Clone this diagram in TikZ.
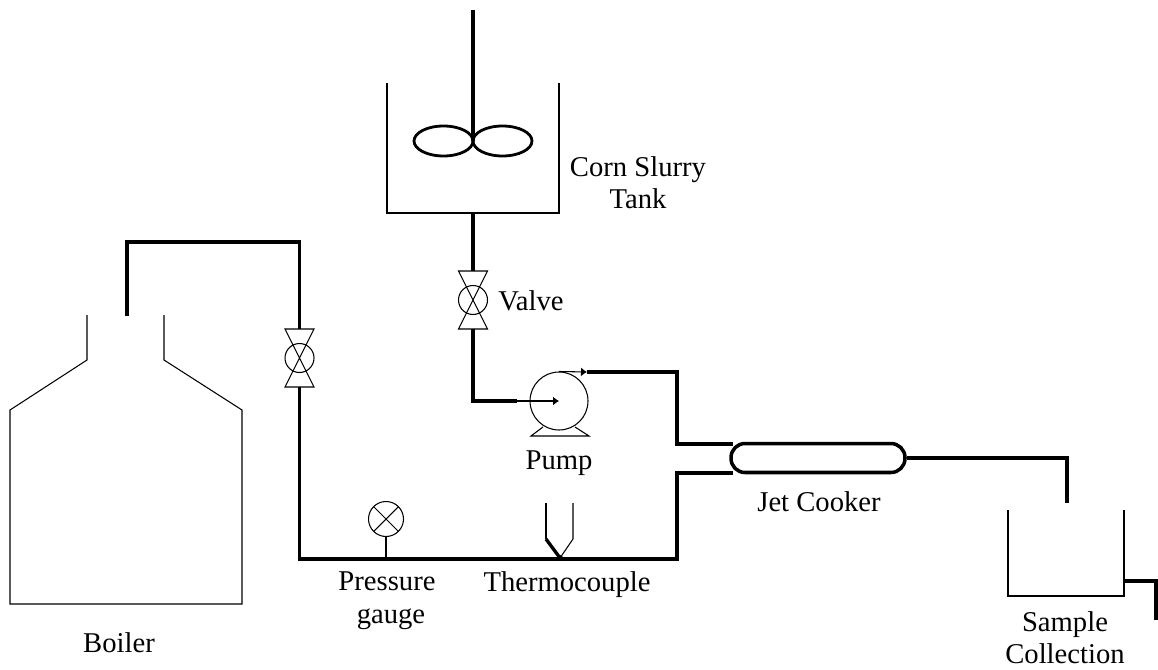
\documentclass[tikz,border=0pt]{standalone}
\usepackage{fontspec}
\setmainfont{Liberation Serif}
\usetikzlibrary{arrows.meta}

\tikzset{
  pipe/.style={line width=2.2pt, line join=miter},
  wall/.style={line width=0.6pt, line join=miter},
  feed/.style={wall, -{Latex[length=1.2mm, width=1.8mm]}},
  ball/.style={circle, draw, line width=0.6pt, inner sep=0pt, minimum size=0.58cm},
  label/.style={font=\fontsize{16.3}{19}\selectfont, inner sep=0pt},
}

\begin{document}
\begin{tikzpicture}[x=0.02cm, y=-0.02cm]
  \useasboundingbox (0,0) rectangle (1158,669);

  % Boiler
  \draw[wall] (87,315) -- (87,360) -- (10,410) -- (10,604) -- (242,604) -- (242,410) -- (164,360) -- (164,315);
  \coordinate (boilertop) at (127,316);

  % Corn slurry tank with stirrer
  \draw[wall] (387,83) -- (387,213) -- (559,213) -- (559,83);
  \coordinate (tankbottom) at (473,213);
  \coordinate (shafttop) at (473,10);
  \draw[line width=1.9pt] (shafttop) -- (473,141);
  \draw[line width=1.6pt] (443.5,141) ellipse (29.5 and 15);
  \draw[line width=1.6pt] (502.5,141) ellipse (29.5 and 15);

  % Valves
  \foreach \name/\px/\py in {steamvalve/299.5/358, tankvalve/473/300} {
    \node[ball] (\name) at (\px,\py) {};
    \draw[wall] (\px-14.5,\py-29) -- (\px+14.5,\py-29) -- (\px-14.5,\py+29) -- (\px+14.5,\py+29) -- cycle;
    \coordinate (\name top) at (\px,\py-29);
    \coordinate (\name bot) at (\px,\py+29);
  }

  % Pump
  \node[ball, minimum size=1.16cm] (pump) at (559,401) {};
  \draw[wall] (543,427) -- (531,436) -- (589,436) -- (575,427);
  \coordinate (pumpin) at (517,401);
  \coordinate (pumpout) at (587,372);
  \draw[feed] (pumpin) -- (pump.center);
  \draw[feed] (pump.north) -- (pumpout);

  % Jet cooker
  \node[draw, line width=2pt, rounded corners=0.28cm, minimum width=3.48cm, minimum height=0.58cm, inner sep=0pt] (cooker) at (818,458) {};
  \coordinate (cookerin) at (733,444);
  \coordinate (cookersteam) at (733,473);

  % Pressure gauge
  \node[ball, minimum size=0.7cm, path picture={
    \draw[wall] (path picture bounding box.south west) -- (path picture bounding box.north east);
    \draw[wall] (path picture bounding box.north west) -- (path picture bounding box.south east);
  }] (gauge) at (386,519) {};
  \coordinate (gaugetap) at (386,559);
  \draw[wall] (gauge) -- (gaugetap);

  % Thermocouple
  \coordinate (thermotip) at (560,558);
  \draw[wall] (546,503) -- (546,539);
  \draw[wall] (573,503) -- (573,539) -- (thermotip);
  \draw[line width=1.9pt] (546,539) -- (thermotip);
  \fill (thermotip) circle (3);

  % Sample collection
  \draw[wall] (1008,510) -- (1008,596) -- (1124,596) -- (1124,510);
  \coordinate (samplein) at (1067,503);
  \coordinate (sampleout) at (1124,581);
  \coordinate (drain) at (1156,620);

  % Pipes
  \draw[pipe] (tankbottom) -- (tankvalvetop);
  \draw[pipe] (tankvalvebot) |- (pumpin);
  \draw[pipe] (pumpout) -| (677,444) -- (cookerin);
  \draw[pipe] (cookersteam) -| (677,559) -- (299.5,559) -- (steamvalvebot);
  \draw[pipe] (steamvalvetop) |- (127,242) -- (boilertop);
  \draw[pipe] (cooker.east) -| (samplein);
  \draw[pipe] (sampleout) -| (drain);

  % Labels
  \node[label] (slurrylabel) at (638,170) {Corn Slurry};
  \node[label] (tanklabel) at (638,199) {Tank};
  \node[label] (valvelabel) at (531,301) {Valve};
  \node[label] (pumplabel) at (559,463) {Pump};
  \node[label] (cookerlabel) at (819,502) {Jet Cooker};
  \node[label] (pressurelabel) at (387,581) {Pressure};
  \node[label] (gaugelabel) at (391,619) {gauge};
  \node[label] (thermolabel) at (567,585) {Thermocouple};
  \node[label] (boilerlabel) at (119,643) {Boiler};
  \node[label] (samplelabel) at (1065,625) {Sample};
  \node[label] (collectionlabel) at (1065,654) {Collection};
\end{tikzpicture}
\end{document}
